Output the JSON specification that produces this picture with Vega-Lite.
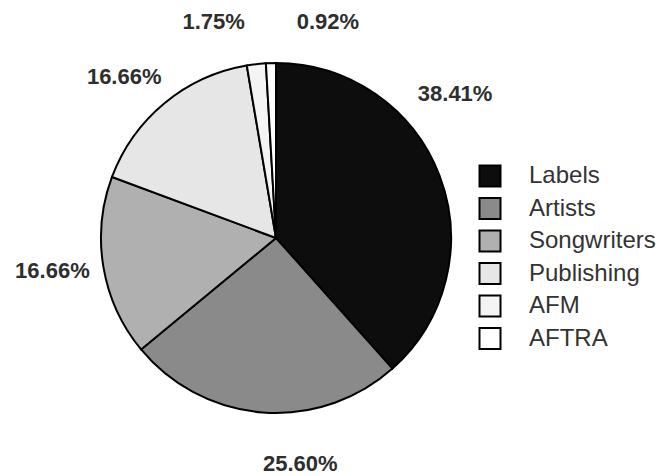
{
  "$schema": "https://vega.github.io/schema/vega-lite/v6.json",
  "width": 552,
  "height": 476,
  "autosize": "none",
  "padding": {"left": 0, "top": 0, "right": 108, "bottom": 0},
  "background": "white",
  "data": {
    "values": [
      {"category": "Labels", "share": 38.41, "rank": 1, "label": "38.41%"},
      {"category": "Artists", "share": 25.60, "rank": 2, "label": "25.60%"},
      {"category": "Songwriters", "share": 16.66, "rank": 3, "label": "16.66%"},
      {"category": "Publishing", "share": 16.66, "rank": 4, "label": "16.66%"},
      {"category": "AFM", "share": 1.75, "rank": 5, "label": "1.75%"},
      {"category": "AFTRA", "share": 0.92, "rank": 6, "label": "0.92%"}
    ]
  },
  "encoding": {
    "theta": {"field": "share", "type": "quantitative", "stack": true},
    "order": {"field": "rank", "type": "quantitative"}
  },
  "layer": [
    {
      "mark": {"type": "arc", "outerRadius": 175, "stroke": "black", "strokeWidth": 2},
      "encoding": {
        "color": {
          "field": "category",
          "type": "nominal",
          "scale": {
            "domain": ["Labels", "Artists", "Songwriters", "Publishing", "AFM", "AFTRA"],
            "range": ["#0d0d0d", "#8a8a8a", "#b0b0b0", "#e6e6e6", "#f4f4f4", "#ffffff"]
          },
          "legend": {
            "title": null,
            "orient": "none",
            "legendX": 478,
            "legendY": 164,
            "padding": 0,
            "symbolType": "square",
            "symbolSize": 441,
            "symbolStrokeColor": "black",
            "symbolStrokeWidth": 2,
            "symbolOpacity": 1,
            "labelFont": "Liberation Sans",
            "labelFontSize": 24,
            "labelColor": "#333333",
            "labelOffset": 27,
            "rowPadding": 2.5,
            "labelLimit": 200
          }
        }
      }
    },
    {
      "mark": {"type": "text", "radius": 230, "thetaOffset": -0.314, "font": "Liberation Sans", "fontWeight": "bold", "fontSize": 22, "fill": "#2e2e2e", "align": "center", "baseline": "middle"},
      "encoding": {"text": {"condition": {"test": "datum.category === 'Labels'", "field": "label"}, "value": ""}}
    },
    {
      "mark": {"type": "text", "radius": 227, "thetaOffset": -0.183, "font": "Liberation Sans", "fontWeight": "bold", "fontSize": 22, "fill": "#2e2e2e", "align": "center", "baseline": "middle"},
      "encoding": {"text": {"condition": {"test": "datum.category === 'Artists'", "field": "label"}, "value": ""}}
    },
    {
      "mark": {"type": "text", "radius": 226, "thetaOffset": 0.021, "font": "Liberation Sans", "fontWeight": "bold", "fontSize": 22, "fill": "#2e2e2e", "align": "center", "baseline": "middle"},
      "encoding": {"text": {"condition": {"test": "datum.category === 'Songwriters'", "field": "label"}, "value": ""}}
    },
    {
      "mark": {"type": "text", "radius": 221, "thetaOffset": -0.066, "font": "Liberation Sans", "fontWeight": "bold", "fontSize": 22, "fill": "#2e2e2e", "align": "center", "baseline": "middle"},
      "encoding": {"text": {"condition": {"test": "datum.category === 'Publishing'", "field": "label"}, "value": ""}}
    },
    {
      "mark": {"type": "text", "radius": 225, "thetaOffset": -0.168, "font": "Liberation Sans", "fontWeight": "bold", "fontSize": 22, "fill": "#2e2e2e", "align": "center", "baseline": "middle"},
      "encoding": {"text": {"condition": {"test": "datum.category === 'AFM'", "field": "label"}, "value": ""}}
    },
    {
      "mark": {"type": "text", "radius": 222, "thetaOffset": 0.265, "font": "Liberation Sans", "fontWeight": "bold", "fontSize": 22, "fill": "#2e2e2e", "align": "center", "baseline": "middle"},
      "encoding": {"text": {"condition": {"test": "datum.category === 'AFTRA'", "field": "label"}, "value": ""}}
    }
  ]
}
